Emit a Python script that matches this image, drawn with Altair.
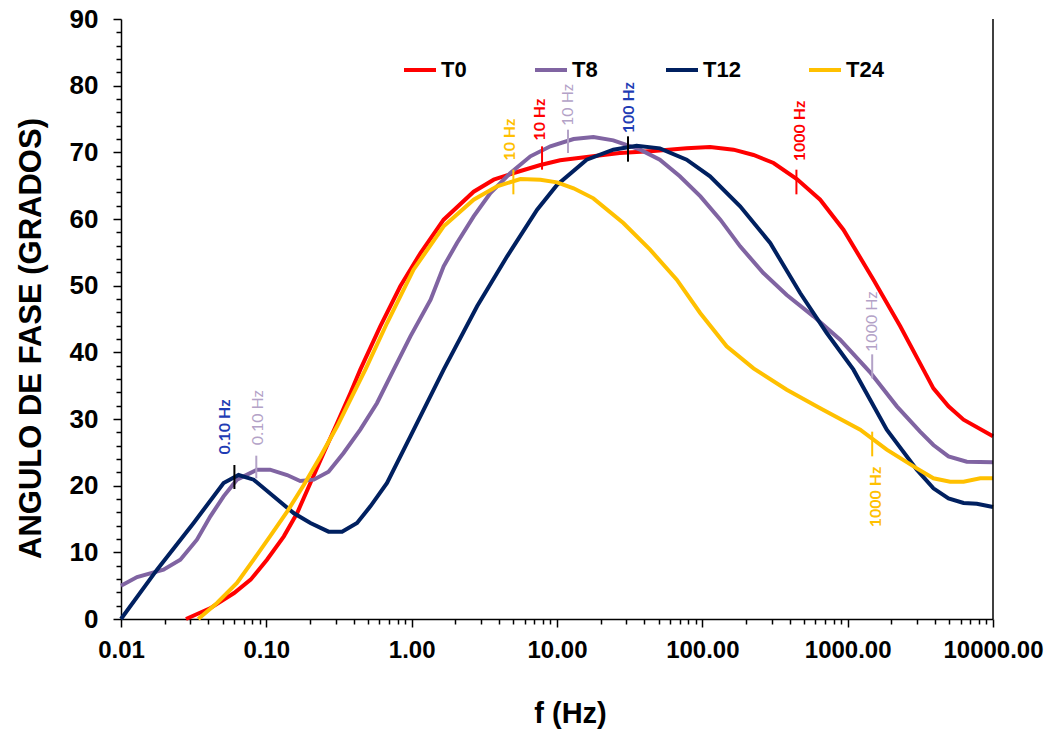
import altair as alt
import pandas as pd

X_DOMAIN = [0.01, 10000]
Y_DOMAIN = [0, 90]
SERIES = ["T0", "T8", "T12", "T24"]
COLORS = ["#FF0000", "#8064A2", "#002060", "#FFC000"]

T0_F = [0.028, 0.041, 0.060, 0.078, 0.101, 0.132, 0.163, 0.201, 0.248, 0.307, 0.379, 0.443, 0.608, 0.835,
        1.15, 1.66, 2.67, 3.67, 5.04, 7.69, 10.5, 16, 27, 46, 78, 113, 164, 225, 309, 447, 647, 935, 1505,
        2300, 3320, 3890, 4940, 6270, 10000]
T0_Y = [0, 1.6, 3.9, 5.9, 8.9, 12.4, 15.9, 20.4, 24.9, 29.4, 33.9, 37.4, 43.9, 49.9,
        54.9, 59.9, 64.1, 65.9, 66.9, 68.1, 68.8, 69.3, 69.9, 70.2, 70.6, 70.8, 70.4, 69.6, 68.4, 66.0, 62.9, 58.4, 50.9,
        43.9, 37.4, 34.6, 31.9, 29.9, 27.4]

T8_F = [0.01, 0.0129, 0.0196, 0.0256, 0.0333, 0.0412, 0.0508, 0.0628, 0.0862, 0.106, 0.139, 0.171, 0.212, 0.268,
        0.340, 0.443, 0.578, 0.752, 0.98, 1.35, 1.66, 2.05, 2.67, 3.48, 4.78, 6.56, 9.0, 13, 17.8, 24.4, 37.3, 51,
        70, 97, 133, 182, 263, 381, 582, 888, 1428, 2180, 3150, 3890, 4940, 6600, 10000]
T8_Y = [5.0, 6.3, 7.4, 8.9, 11.9, 15.4, 18.4, 20.9, 22.4, 22.4, 21.6, 20.7, 20.9, 22.1,
        24.9, 28.4, 32.4, 37.4, 42.4, 47.9, 52.9, 56.4, 60.4, 63.9, 66.9, 69.4, 70.9, 72.0, 72.3, 71.8, 70.4, 68.9,
        66.4, 63.4, 59.9, 55.9, 51.9, 48.6, 45.4, 41.9, 37.0, 31.9, 28.1, 26.1, 24.4, 23.6, 23.5]

T12_F = [0.01, 0.0177, 0.0316, 0.0508, 0.0644, 0.0818, 0.112, 0.154, 0.201, 0.268, 0.332, 0.421, 0.52, 0.677,
         0.98, 1.66, 2.82, 4.54, 7.3, 10, 16, 24.4, 35.3, 51, 78, 113, 182, 293, 471, 718, 1096, 1858, 2990,
         3890, 4940, 6270, 7740, 10000]
T12_Y = [0, 7.4, 14.4, 20.4, 21.6, 20.9, 18.4, 15.9, 14.4, 13.1, 13.1, 14.4, 16.9, 20.4,
         27.4, 37.4, 46.9, 54.4, 61.4, 65.1, 68.9, 70.4, 71.0, 70.6, 68.9, 66.4, 61.9, 56.4, 48.9, 42.9, 37.4, 28.4, 22.4,
         19.6, 18.1, 17.4, 17.3, 16.8]

T24_F = [0.034, 0.0458, 0.0628, 0.0818, 0.106, 0.139, 0.181, 0.236, 0.307, 0.399, 0.48, 0.677, 1.03, 1.66,
         2.67, 3.87, 5.6, 7.69, 10, 13, 17.8, 28.6, 43.7, 66.7, 96.6, 147, 225, 381, 647, 1220, 1858, 2990,
         3890, 5070, 6270, 8170, 10000]
T24_Y = [0, 2.4, 5.4, 8.9, 12.4, 16.1, 20.1, 24.4, 28.9, 33.9, 37.4, 44.4, 52.4, 58.9,
         62.9, 64.9, 66.0, 65.9, 65.5, 64.6, 63.1, 59.4, 55.4, 50.9, 45.9, 40.9, 37.6, 34.4, 31.6, 28.4, 25.4, 22.6,
         21.1, 20.6, 20.6, 21.1, 21.1]

# frequency markers
MK_LABEL = ["0.10 Hz", "0.10 Hz", "10 Hz", "10 Hz", "10 Hz", "100 Hz", "1000 Hz", "1000 Hz", "1000 Hz"]
MK_F = [0.0603, 0.0853, 5.01, 7.89, 11.9, 30.8, 444, 1475, 1475]
MK_Y1 = [19.5, 21.1, 63.7, 67.4, 69.9, 68.6, 63.7, 36.1, 24.4]
MK_Y2 = [23.1, 24.5, 67.4, 70.9, 73.4, 72.4, 67.4, 39.7, 28.1]
MK_TICK_COLOR = ["#000000", "#B3A2C7", "#FFC000", "#FF0000", "#B3A2C7", "#000000", "#FF0000", "#B3A2C7", "#FFC000"]
MK_TEXT_F = [0.0523, 0.0874, 4.78, 7.69, 11.9, 31.5, 473, 1459, 1578]
MK_TEXT_Y = [28.8, 30.2, 71.9, 74.9, 77.1, 76.7, 73.2, 44.6, 18.3]
MK_TEXT_COLOR = ["#1F3CB4", "#B3A2C7", "#FFC000", "#FF0000", "#B3A2C7", "#1F3CB4", "#FF0000", "#B3A2C7", "#FFC000"]
MK_BOLD = [True, False, True, True, False, True, True, False, True]

# axis ticks
X_MAJOR = [0.01, 0.1, 1, 10, 100, 1000, 10000]
X_MINOR = [m * 10 ** e for e in range(-2, 4) for m in range(2, 10)]
Y_MAJOR = list(range(0, 91, 10))
Y_MINOR = [v for v in range(0, 91, 2) if v % 10]

rows = []
for name, fs, ys in [("T0", T0_F, T0_Y), ("T8", T8_F, T8_Y), ("T12", T12_F, T12_Y), ("T24", T24_F, T24_Y)]:
    for i, (f, y) in enumerate(zip(fs, ys)):
        rows.append({"series": name, "f": f, "phase": y, "ord": i})
lines_df = pd.DataFrame(rows)

tick_df = pd.DataFrame({"f": MK_F, "phase": MK_Y1, "phase2": MK_Y2, "c": MK_TICK_COLOR})
text_df = pd.DataFrame({"f": MK_TEXT_F, "phase": MK_TEXT_Y, "label": MK_LABEL, "c": MK_TEXT_COLOR, "bold": MK_BOLD})
border_df = pd.DataFrame({"f": [X_DOMAIN[1]], "phase": [Y_DOMAIN[0]], "phase2": [Y_DOMAIN[1]]})

FONT = "Liberation Sans"
xscale = alt.Scale(type="log", domain=X_DOMAIN, nice=False)
yscale = alt.Scale(domain=Y_DOMAIN, nice=False)

x_axis = alt.Axis(
    orient="bottom", values=X_MAJOR, format=".2f", tickSize=8,
    title="f (Hz)", grid=False, labelFont=FONT, labelFontSize=24, labelFontWeight="bold",
    labelColor="black", labelPadding=11, labelOverlap=False, labelFlush=False,
    titleFont=FONT, titleFontSize=29, titleFontWeight="bold", titleColor="black", titlePadding=37,
    titleX=449,
)
y_axis = alt.Axis(
    orient="left", values=Y_MAJOR, format="d", tickSize=8,
    title="ANGULO DE FASE (GRADOS)", grid=False, labelFont=FONT, labelFontSize=26, labelFontWeight="bold",
    labelColor="black", labelPadding=15, labelOverlap=False, labelFlush=False,
    titleFont=FONT, titleFontSize=31, titleFontWeight="bold", titleColor="black", titlePadding=22,
    titleY=319,
)
x_minor_axis = alt.Axis(orient="bottom", values=X_MINOR, tickSize=5, labels=False, domain=False,
                        title=None, grid=False)
y_minor_axis = alt.Axis(orient="left", values=Y_MINOR, tickSize=5, labels=False, domain=False,
                        title=None, grid=False)

lines = alt.Chart(lines_df).mark_line(strokeWidth=4).encode(
    x=alt.X("f:Q", scale=xscale, axis=x_axis),
    y=alt.Y("phase:Q", scale=yscale, axis=y_axis),
    color=alt.Color("series:N", scale=alt.Scale(domain=SERIES, range=COLORS), sort=SERIES,
                    legend=alt.Legend(title=None, orient="none", legendX=281, legendY=33, direction="horizontal",
                                      symbolType="stroke", symbolSize=1024, symbolStrokeWidth=4,
                                      labelFont=FONT, labelFontSize=22, labelFontWeight="bold", labelColor="black",
                                      labelOffset=3, columnPadding=60, padding=0)),
    order="ord:Q",
)

ticks = alt.Chart(tick_df).mark_rule(strokeWidth=2).encode(
    x=alt.X("f:Q", scale=xscale, axis=None), y=alt.Y("phase:Q", scale=yscale, axis=None), y2="phase2:Q",
    stroke=alt.Stroke("c:N", scale=None),
)

text_bold = alt.Chart(text_df).transform_filter("datum.bold").mark_text(
    angle=270, font="Lato", fontSize=16, fontWeight="bold", align="center", baseline="middle"
).encode(
    x=alt.X("f:Q", scale=xscale, axis=None), y=alt.Y("phase:Q", scale=yscale, axis=None), text="label:N",
    fill=alt.Fill("c:N", scale=None),
)
text_norm = alt.Chart(text_df).transform_filter("!datum.bold").mark_text(
    angle=270, font="Lato", fontSize=16, fontWeight="normal", align="center", baseline="middle"
).encode(
    x=alt.X("f:Q", scale=xscale, axis=None), y=alt.Y("phase:Q", scale=yscale, axis=None), text="label:N",
    fill=alt.Fill("c:N", scale=None),
)

border = alt.Chart(border_df).mark_rule(strokeWidth=1.5, color="black").encode(
    x=alt.X("f:Q", scale=xscale, axis=x_minor_axis), y=alt.Y("phase:Q", scale=yscale, axis=y_minor_axis),
    y2="phase2:Q",
)

chart = alt.layer(lines, ticks, text_bold, text_norm, border).resolve_axis(
    x="independent", y="independent"
).properties(
    width=872, height=600,
    padding={"left": 121, "top": 19, "right": 60, "bottom": 113},
    autosize=alt.AutoSizeParams(type="none"),
    background="white",
).configure_view(stroke=None).configure_axis(
    domainColor="black", domainWidth=1.5, tickColor="black", tickWidth=1.5,
)

chart.save("out.html", embed_options={"renderer": "svg", "actions": False})
